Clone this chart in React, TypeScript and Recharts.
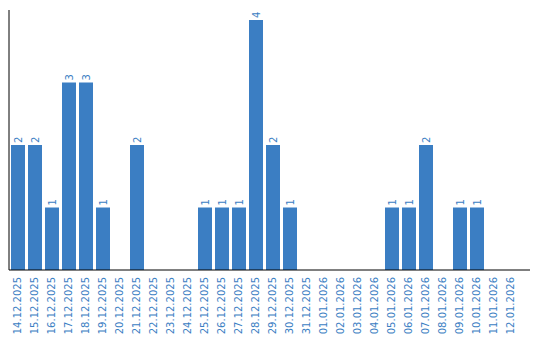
import { BarChart, Bar, XAxis, YAxis, LabelList } from "recharts";

const days = [
  "14.12.2025", "15.12.2025", "16.12.2025", "17.12.2025", "18.12.2025", "19.12.2025",
  "20.12.2025", "21.12.2025", "22.12.2025", "23.12.2025", "24.12.2025", "25.12.2025",
  "26.12.2025", "27.12.2025", "28.12.2025", "29.12.2025", "30.12.2025", "31.12.2025",
  "01.01.2026", "02.01.2026", "03.01.2026", "04.01.2026", "05.01.2026", "06.01.2026",
  "07.01.2026", "08.01.2026", "09.01.2026", "10.01.2026", "11.01.2026", "12.01.2026",
];
const counts = [2, 2, 1, 3, 3, 1, 0, 2, 0, 0, 0, 1, 1, 1, 4, 2, 1, 0, 0, 0, 0, 0, 1, 1, 2, 0, 1, 1, 0, 0];

const BLUE = "#3b7ec3";
const FONT = "'DejaVu Sans', Verdana, sans-serif";

const data = days.map((day, i) => ({ day, count: counts[i] }));

// tick vertical, lu de bas en haut
const DayTick = ({ x, payload }: any) => (
  <text
    x={x}
    y={277}
    transform={`rotate(-90, ${x}, 277)`}
    textAnchor="end"
    dy="0.35em"
    fill={BLUE}
    fontSize={10}
    fontFamily={FONT}
  >
    {payload.value}
  </text>
);

// valeur au-dessus de la barre, tournée aussi
const ValueLabel = ({ x, y, width, value }: any) => {
  if (!value) return null;
  const cx = Number(x) + Number(width) / 2;
  const ty = Number(y) - 2;
  return (
    <text
      x={cx}
      y={ty}
      transform={`rotate(-90, ${cx}, ${ty})`}
      textAnchor="start"
      dy="0.35em"
      fill={BLUE}
      fontSize={10}
      fontFamily={FONT}
    >
      {value}
    </text>
  );
};

export default function App() {
  return (
    <div style={{ position: "absolute", left: 0, top: 0, width: 540, height: 340, background: "#fff" }}>
      <BarChart width={540} height={340} data={data} margin={{ top: 10, right: 10, left: 8, bottom: 0 }}>
        <XAxis
          dataKey="day"
          interval={0}
          height={70}
          tickLine={false}
          stroke="#000"
          tick={<DayTick />}
          padding={{ left: 0, right: 11 }}
        />
        <YAxis width={1} domain={[0, 4]} tick={false} tickLine={false} stroke="#000" padding={{ top: 10, bottom: 0 }} />
        <Bar dataKey="count" fill={BLUE} barSize={14} isAnimationActive={false}>
          <LabelList dataKey="count" content={<ValueLabel />} />
        </Bar>
      </BarChart>
    </div>
  );
}
